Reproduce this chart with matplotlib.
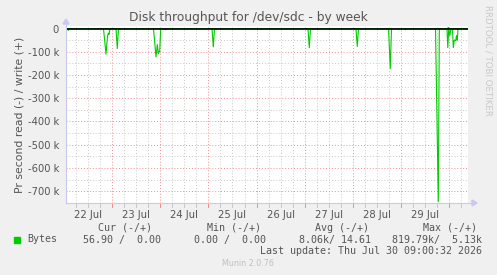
import numpy as np
import matplotlib
matplotlib.use("Agg")
from matplotlib import pyplot as plt

# read throughput (bytes/s, shown negative), time in days since 22 Jul 00:00
read_days = [0.046, 0.077, 0.093, 0.108,
             0.824, 0.876, 0.896, 0.911, 0.927, 0.938, 0.959,
             1.083, 1.110, 1.135,
             1.861, 1.913, 1.940, 1.961, 1.975, 1.990, 2.010,
             2.100, 2.114, 2.131,
             3.075, 3.102, 3.127,
             4.081, 4.095, 4.112,
             5.066, 5.093, 5.118,
             6.062, 6.089, 6.114,
             6.737, 6.774, 6.799,
             7.069, 7.085, 7.100,
             7.712, 7.770, 7.791,
             7.950, 7.967, 7.986, 8.008, 8.033,
             8.064, 8.081, 8.102, 8.131, 8.147, 8.164, 8.178,
             8.386]
read_k = [0, 0, -8, 0,
          0, -110, -60, -28, -20, -25, 0,
          0, -86, 0,
          0, -122, -69, -107, -98, -100, 0,
          0, -5, 0,
          0, -79, 0,
          0, -4, 0,
          0, -82, 0,
          0, -77, 0,
          0, -172, 0,
          0, -5, 0,
          0, -745, 0,
          0, -82, 0, -30, 0,
          0, -82, -50, -52, -30, -50, 0,
          0]
write_days = [0.046, 7.967, 7.975, 7.990, 8.386]
write_k = [0, 0, 5, 0, 0]

day_labels = ["22 Jul", "23 Jul", "24 Jul", "25 Jul", "26 Jul", "27 Jul", "28 Jul", "29 Jul"]
ytick_vals = [0, -100, -200, -300, -400, -500, -600, -700]
ytick_labels = ["0", "-100 k", "-200 k", "-300 k", "-400 k", "-500 k", "-600 k", "-700 k"]

W, H = 497, 275
bg = "#F0F0F0"
txt = "#555555"
x0, x1 = 0.046, 8.386

fig = plt.figure(figsize=(W / 100, H / 100), dpi=100, facecolor=bg)

# plot box in pixels
left, right, top, bottom = 66, 468, 26, 203
ax = fig.add_axes([left / W, 1 - bottom / H, (right - left) / W, (bottom - top) / H])
ax.set_facecolor("white")
ax.set_xlim(x0, x1)
ax.set_ylim(-751, 11)

# grid: 6h minor, midnight major
minor_x = np.arange(0.25, 8.4, 0.25)
for x in minor_x:
    if abs(x - round(x)) < 1e-6:
        continue
    ax.axvline(x, color="#C8C8C8", lw=0.7, ls=(0, (1, 2)), zorder=1)
for y in np.arange(-50, -760, -100):
    ax.axhline(y, color="#C8C8C8", lw=0.7, ls=(0, (1, 2)), zorder=1)
for x in range(1, 9):
    ax.axvline(x, color="#F09090", lw=0.7, ls=(0, (1, 2)), zorder=1)
for y in ytick_vals[1:]:
    ax.axhline(y, color="#F09090", lw=0.7, ls=(0, (1, 2)), zorder=1)

ax.plot(read_days, read_k, color="#00CC00", lw=0.8, zorder=3)
ax.plot(write_days, write_k, color="#00CC00", lw=0.8, zorder=3)
ax.axhline(0, color="black", lw=1.2, zorder=4)

for s in ax.spines.values():
    s.set_visible(False)
ax.tick_params(length=0)
ax.set_xticks([d + 0.5 for d in range(0, 8)])
ax.set_xticklabels(day_labels, fontsize=7.2, color=txt)
ax.tick_params(axis="x", pad=5)
ax.set_yticks(ytick_vals)
ax.set_yticklabels(ytick_labels, fontsize=7.2, color=txt)
ax.tick_params(axis="y", pad=5)
ax.set_ylabel("Pr second read (-) / write (+)", fontsize=7.8, color=txt, labelpad=2)

# axis lines with arrows
axc = "#C8C8F0"
fig.add_artist(plt.Line2D([left / W, 472 / W], [1 - bottom / H] * 2, color=axc, lw=0.8))
fig.add_artist(plt.Line2D([left / W] * 2, [1 - bottom / H, 1 - 22 / H], color=axc, lw=0.8))
fig.patches.append(plt.Polygon([[472 / W, 1 - 200 / H], [472 / W, 1 - 206 / H], [477 / W, 1 - 203 / H]],
                               closed=True, color=axc, transform=fig.transFigure))
fig.patches.append(plt.Polygon([[63 / W, 1 - 24 / H], [69 / W, 1 - 24 / H], [66 / W, 1 - 19 / H]],
                               closed=True, color=axc, transform=fig.transFigure))
# small tick marks under the axis
for x in np.arange(0.25, 8.4, 0.25):
    px = left + (x - x0) / (x1 - x0) * (right - left)
    c = "#F09090" if abs(x - round(x)) < 1e-6 else "#C8C8C8"
    fig.add_artist(plt.Line2D([px / W] * 2, [1 - 204 / H, 1 - 207 / H], color=c, lw=0.7))

fig.text(248 / W, 1 - 17 / H, "Disk throughput for /dev/sdc - by week", ha="center", va="center",
         fontsize=8.8, color=txt)
fig.text(488 / W, 1 - 5 / H, "RRDTOOL / TOBI OETIKER", rotation=270, ha="center", va="top",
         fontsize=6.2, color="#C8C8C8")

mono = dict(family="DejaVu Sans Mono", fontsize=7.2, color=txt, va="center")
fig.text(98 / W, 1 - 228 / H, "Cur (-/+)", **mono)
fig.text(207 / W, 1 - 228 / H, "Min (-/+)", **mono)
fig.text(315 / W, 1 - 228 / H, "Avg (-/+)", **mono)
fig.text(423 / W, 1 - 228 / H, "Max (-/+)", **mono)
fig.patches.append(plt.Rectangle((14 / W, 1 - 242.5 / H), 6 / W, 6 / H, color="#00CC00",
                                 transform=fig.transFigure))
fig.text(27 / W, 1 - 239.5 / H, "Bytes", **mono)
fig.text(161 / W, 1 - 239.5 / H, "56.90 /  0.00", ha="right", **mono)
fig.text(266 / W, 1 - 239.5 / H, "0.00 /  0.00", ha="right", **mono)
fig.text(371 / W, 1 - 239.5 / H, "8.06k/ 14.61", ha="right", **mono)
fig.text(482 / W, 1 - 239.5 / H, "819.79k/  5.13k", ha="right", **mono)
fig.text(482 / W, 1 - 251 / H, "Last update: Thu Jul 30 09:00:32 2026", ha="right", **mono)
fig.text(248 / W, 1 - 264 / H, "Munin 2.0.76", ha="center", va="center", fontsize=5.8, color="#C0C0C0")

fig.savefig("out.png", dpi=100, facecolor=bg)
